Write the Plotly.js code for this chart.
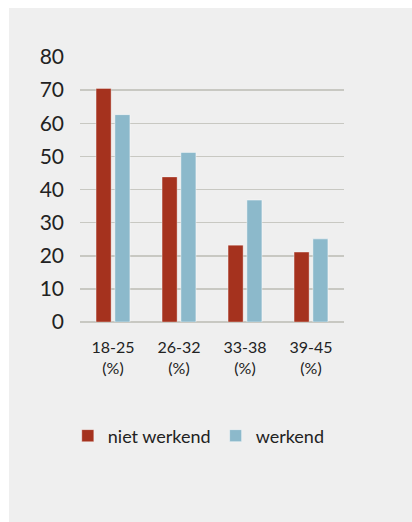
<!DOCTYPE html>
<html>
<head>
<meta charset="utf-8">
<script src="https://cdn.plot.ly/plotly-3.0.1.min.js"></script>
<style>
  html, body { margin: 0; padding: 0; background: #ffffff; }
  #chart { position: absolute; left: 9px; top: 8px; width: 403px; height: 514px; }
</style>
</head>
<body>
<div id="chart"></div>
<script>
const categories = ['18-25<br>(%)', '26-32<br>(%)', '33-38<br>(%)', '39-45<br>(%)'];
const nietWerkend = [70.5, 43.8, 23.2, 21.1];
const werkend = [62.6, 51.2, 36.8, 25.1];
const yTicks = [0, 10, 20, 30, 40, 50, 60, 70, 80];

const FONT = 'Lato, "Open Sans", sans-serif';

const traces = [
  {
    type: 'bar', name: 'niet werkend', x: categories, y: nietWerkend,
    marker: { color: '#A5321E', line: { color: 'rgba(255,255,255,0.35)', width: 1 } },
    hoverinfo: 'skip'
  },
  {
    type: 'bar', name: 'werkend', x: categories, y: werkend,
    marker: { color: '#8CB9CB', line: { color: 'rgba(255,255,255,0.45)', width: 1 } },
    hoverinfo: 'skip'
  }
];

const layout = {
  width: 403, height: 514,
  paper_bgcolor: '#EFEFEF', plot_bgcolor: 'rgba(0,0,0,0)',
  margin: { l: 71, r: 68, t: 49, b: 200 },
  barmode: 'group', bargap: 0.43, bargroupgap: 0.2,
  font: { family: FONT, color: '#222222' },
  showlegend: true,
  legend: {
    orientation: 'h', x: 0.45, xanchor: 'center', xref: 'paper',
    y: -0.43, yanchor: 'middle', yref: 'paper',
    font: { family: FONT, size: 18, color: '#222222' },
    bgcolor: 'rgba(0,0,0,0)', traceorder: 'normal'
  },
  xaxis: {
    type: 'category', showgrid: false, zeroline: false, showline: false,
    ticks: '', tickfont: { family: FONT, size: 16, color: '#222222' },
    ticklabelstandoff: 14, fixedrange: true
  },
  yaxis: {
    range: [0, 80], tickvals: yTicks, ticktext: yTicks.map(String),
    showgrid: true, gridcolor: 'rgb(200,200,194)', gridwidth: 1.5,
    zeroline: true, zerolinecolor: 'rgb(200,200,194)', zerolinewidth: 1.5,
    showline: false, ticks: '',
    tickfont: { family: FONT, size: 21, color: '#222222' },
    ticklabelstandoff: 15, fixedrange: true
  }
};

Plotly.newPlot('chart', traces, layout, { displayModeBar: false, staticPlot: true });
</script>
</body>
</html>
